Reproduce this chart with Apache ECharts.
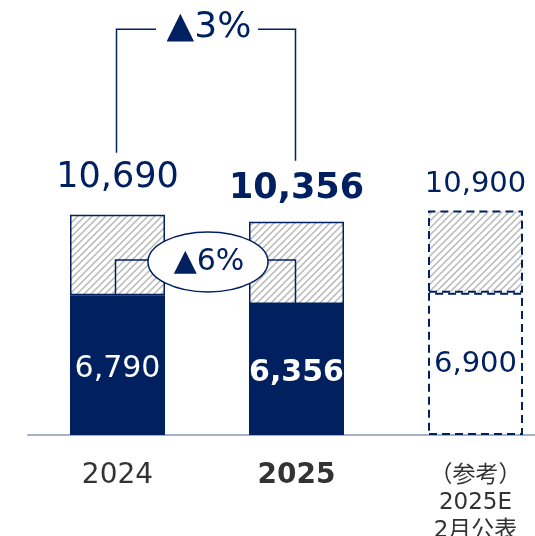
<!DOCTYPE html>
<html>
<head>
<meta charset="utf-8">
<script src="https://cdn.jsdelivr.net/npm/echarts@6/dist/echarts.min.js"></script>
<style>
  html, body { margin: 0; padding: 0; background: #fff; overflow: hidden; }
  #chart { width: 535px; height: 536px; }
</style>
</head>
<body>
<div id="chart"></div>
<script>
// Categories and values
const categories = ['2024', '2025', '（参考）\n2025E\n2月公表'];
const baseValues = [6790, 6356, 6900];
const totalValues = [10690, 10356, 10900];
const changeTotalText = '▲3%';
const changeBaseText = '▲6%';
// levels (in value units) of the comparison connectors
const bracketLevel = 19700;
const stepLevel = 8500;

const NAVY = '#002060';
const FONT = '"DejaVu Sans", "Noto Sans CJK JP", sans-serif';

// diagonal hatch fill
function makeHatch() {
  const c = document.createElement('canvas');
  const s = 7;
  c.width = s; c.height = s;
  const g = c.getContext('2d');
  g.fillStyle = '#fff';
  g.fillRect(0, 0, s, s);
  g.strokeStyle = '#b8b8b8';
  g.lineWidth = 1.5;
  g.beginPath();
  g.moveTo(-1, s + 1); g.lineTo(s + 1, -1);
  g.moveTo(-1, 1); g.lineTo(1, -1);
  g.moveTo(s - 1, s + 1); g.lineTo(s + 1, s - 1);
  g.stroke();
  return c;
}
const hatch = { image: makeHatch(), repeat: 'repeat' };

const topValues = totalValues.map((t, i) => t - baseValues[i]);

const fmt = v => v.toLocaleString('en-US');

const baseData = baseValues.map((v, i) => {
  if (i === 2) {
    return {
      value: v,
      itemStyle: { color: '#fff', borderColor: NAVY, borderWidth: 2, borderType: [8, 5] },
      label: { color: NAVY, fontSize: 29, fontWeight: 'normal', offset: [0, 1] }
    };
  }
  return {
    value: v,
    itemStyle: { color: NAVY, borderWidth: 0 },
    label: { color: '#fff', fontSize: 30, fontWeight: i === 1 ? 'bold' : 'normal', offset: [0, 4] }
  };
});

const topLabelStyles = [
  { fontSize: 35, fontWeight: 'normal', distance: 19 },
  { fontSize: 35, fontWeight: 'bold', distance: 15 },
  { fontSize: 29, fontWeight: 'normal', distance: 11 }
];

const topData = topValues.map((v, i) => ({
  value: v,
  itemStyle: i === 2
    ? { color: hatch, borderColor: NAVY, borderWidth: 2, borderType: [8, 5] }
    : { color: hatch, borderColor: NAVY, borderWidth: 1.5 },
  label: topLabelStyles[i]
}));

const chart = echarts.init(document.getElementById('chart'), null, { renderer: 'canvas' });

chart.setOption({
  animation: false,
  grid: { left: 28, right: -30, top: 23, bottom: 101, outerBoundsMode: 'none', containLabel: false },
  xAxis: {
    type: 'category',
    data: categories,
    axisLine: { show: true, lineStyle: { color: '#a3b3c4', width: 2 } },
    axisTick: { show: false },
    axisLabel: {
      margin: 27,
      interval: 0,
      formatter: (val, idx) => {
        if (idx === 0) return '{a|' + val + '}';
        if (idx === 1) return '{b|' + val + '}';
        return val.split('\n').map(s => '{c|' + s + '}').join('\n');
      },
      rich: {
        a: { fontFamily: FONT, fontSize: 28, color: '#333', lineHeight: 28 },
        b: { fontFamily: FONT, fontSize: 28, fontWeight: 'bold', color: '#333', lineHeight: 28 },
        c: { fontFamily: FONT, fontSize: 23, color: '#333', lineHeight: 27.5 }
      }
    }
  },
  yAxis: { type: 'value', min: 0, max: 20000, show: false, splitLine: { show: false } },
  series: [
    {
      type: 'bar',
      stack: 'total',
      barWidth: 95,
      data: baseData,
      label: {
        show: true,
        position: 'inside',
        fontFamily: FONT,
        formatter: p => fmt(p.value)
      }
    },
    {
      type: 'bar',
      stack: 'total',
      barWidth: 95,
      data: topData,
      label: {
        show: true,
        position: 'top',
        color: NAVY,
        fontFamily: FONT,
        formatter: p => fmt(totalValues[p.dataIndex])
      }
    }
  ]
});

// comparison connectors positioned from the axes
function px(i, v) {
  return chart.convertToPixel({ xAxisIndex: 0, yAxisIndex: 0 }, [i, v]);
}
const x1 = px(0, 0)[0];
const x2 = px(1, 0)[0];
const mid = (x1 + x2) / 2;
const yLevel = px(0, bracketLevel)[1];
const leg1 = px(0, totalValues[0])[1] - 62;
const leg2 = px(1, totalValues[1])[1] - 61;
const yStep = px(0, stepLevel)[1];
const yBase1 = px(0, baseValues[0])[1];
const yBase2 = px(1, baseValues[1])[1];
const gapHalf = 51;

const lineStyle = { stroke: NAVY, lineWidth: 1.5, fill: null };

chart.setOption({
  graphic: [
    { type: 'polyline', z: 100, shape: { points: [[x1 - 1, leg1], [x1 - 1, yLevel], [mid - gapHalf, yLevel]] }, style: lineStyle },
    { type: 'polyline', z: 100, shape: { points: [[mid + gapHalf, yLevel], [x2 - 1, yLevel], [x2 - 1, leg2]] }, style: lineStyle },
    { type: 'text', z: 100, style: { text: changeTotalText, x: mid + 2, y: yLevel - 2, align: 'center', verticalAlign: 'middle', font: '36px ' + FONT, fill: NAVY } },
    { type: 'polyline', z: 100, shape: { points: [[x1 - 2, yBase1], [x1 - 2, yStep], [x2 - 1, yStep], [x2 - 1, yBase2]] }, style: lineStyle },
    { type: 'ellipse', z: 101, shape: { cx: mid + 1, cy: yStep + 2, rx: 60, ry: 30 }, style: { fill: '#fff', stroke: NAVY, lineWidth: 1.5 } },
    { type: 'text', z: 102, style: { text: changeBaseText, x: mid + 2, y: yStep + 2, align: 'center', verticalAlign: 'middle', font: '30px ' + FONT, fill: NAVY } }
  ]
});
</script>
</body>
</html>
